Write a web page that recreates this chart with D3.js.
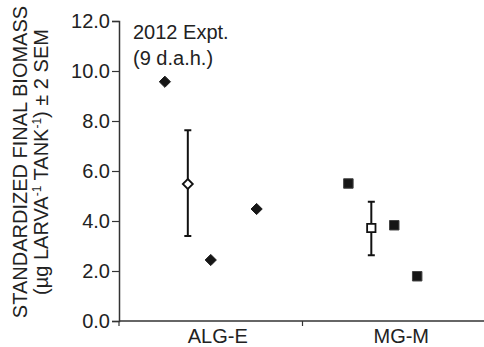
<!DOCTYPE html>
<html>
<head>
<meta charset="utf-8">
<script src="https://cdn.jsdelivr.net/npm/d3@7"></script>
<style>
  body { margin: 0; background: #fff; }
  text { font-family: "Liberation Sans", Arial, sans-serif; fill: #222; }
</style>
</head>
<body>
<div id="chart-area"></div>
<script>
// data
const groups = ['ALG-E', 'MG-M']
const yTicks = [0, 2, 4, 6, 8, 10, 12]

// replicate tanks (slot = order along the group)
const algReps = [9.57, 2.44, 4.48]
const algSlots = [0, 2, 4]
const mgReps = [5.5, 3.83, 1.79]
const mgSlots = [0, 2, 3]

// group means +/- 2 SEM
const means = [5.48, 3.72]
const errLow = [3.4, 2.63]
const errHigh = [7.63, 4.77]
const meanSlot = 1

const margin = {top: 21, right: -2, bottom: 26, left: 119},
      width = 484 - margin.left - margin.right,
      height = 347 - margin.top - margin.bottom;

const svg = d3.select('#chart-area').append('svg')
  .attr('width', 484)
  .attr('height', 347)

const g = svg.append('g')
  .attr('transform', `translate(${margin.left}, ${margin.top})`)

const x = d3.scaleBand().domain(groups).range([0, width])
const slot = d3.scaleLinear().domain([-2, 6]).range([0, x.bandwidth()])
const y = d3.scaleLinear().domain([0, 12]).range([height, 0])

const axisColor = '#333'
const fs = '20px'

// y axis
const yAxis = g.append('g')
  .call(d3.axisLeft(y).tickValues(yTicks).tickFormat(d3.format('.1f')).tickSizeOuter(0).tickSize(7))
yAxis.select('.domain').attr('stroke', axisColor).attr('stroke-width', 1.5)
yAxis.selectAll('.tick line').attr('stroke', axisColor).attr('stroke-width', 1.2)
yAxis.selectAll('.tick text')
  .attr('x', -9)
  .style('font-size', fs)
  .style('font-family', '"Liberation Sans", Arial, sans-serif')
  .attr('fill', '#222')

// x axis, ticks on the group boundaries
const xAxis = g.append('g').attr('transform', `translate(0, ${height})`)
xAxis.append('line')
  .attr('x1', 0).attr('x2', width)
  .attr('stroke', axisColor).attr('stroke-width', 1.5)
xAxis.selectAll('.bound').data(groups)
  .enter().append('line')
  .attr('x1', d => x(d)).attr('x2', d => x(d))
  .attr('y1', 0).attr('y2', 5)
  .attr('stroke', axisColor).attr('stroke-width', 1.2)
xAxis.selectAll('.lab').data(groups)
  .enter().append('text')
  .attr('x', d => x(d) + x.bandwidth() / 2 + 7)
  .attr('y', 22)
  .attr('text-anchor', 'middle')
  .style('font-size', fs)
  .text(d => d)

// y label
const yl = svg.append('text')
  .attr('transform', 'translate(27, 162) rotate(-90)')
  .attr('text-anchor', 'middle')
  .style('font-size', fs)
yl.append('tspan').attr('x', 0).attr('y', 0).text('STANDARDIZED FINAL BIOMASS')
const yl2 = yl.append('tspan').attr('x', 0).attr('y', 21)
yl2.text('(µg LARVA')
yl.append('tspan').attr('dy', -7).style('font-size', '12px').text('-1')
yl.append('tspan').attr('dy', 7).text(' TANK')
yl.append('tspan').attr('dy', -7).style('font-size', '12px').text('-1')
yl.append('tspan').attr('dy', 7).text(') ± 2 SEM')

// annotation
const note = g.append('text').style('font-size', fs)
note.append('tspan').attr('x', 14).attr('y', 18).text('2012 Expt.')
note.append('tspan').attr('x', 14).attr('y', 44).text('(9 d.a.h.)')

const diamond = d3.symbol().type(d3.symbolDiamond2).size(80)
const square = d3.symbol().type(d3.symbolSquare).size(90)

const reps = [
  {group: 'ALG-E', vals: algReps, slots: algSlots, sym: diamond, stroke: '#1a1a1a'},
  {group: 'MG-M', vals: mgReps, slots: mgSlots, sym: square, stroke: '#444'}
]

reps.forEach(r => {
  g.selectAll(null).data(r.vals.map((v, i) => ({v, s: r.slots[i]})))
    .enter().append('path')
    .attr('d', r.sym)
    .attr('transform', d => `translate(${x(r.group) + slot(d.s)}, ${y(d.v)})`)
    .attr('fill', '#161616')
    .attr('stroke', r.stroke)
    .attr('stroke-width', 1)
})

// means with error bars
groups.forEach((grp, i) => {
  const cx = x(grp) + slot(meanSlot)
  const eb = g.append('g')
  eb.append('line')
    .attr('x1', cx).attr('x2', cx)
    .attr('y1', y(errHigh[i])).attr('y2', y(errLow[i]))
    .attr('stroke', '#111').attr('stroke-width', 2)
  ;[errHigh[i], errLow[i]].forEach(v => {
    eb.append('line')
      .attr('x1', cx - 3.5).attr('x2', cx + 3.5)
      .attr('y1', y(v)).attr('y2', y(v))
      .attr('stroke', '#111').attr('stroke-width', 2)
  })
  eb.append('path')
    .attr('d', i === 0 ? d3.symbol().type(d3.symbolDiamond2).size(64)() : d3.symbol().type(d3.symbolSquare).size(70)())
    .attr('transform', `translate(${cx}, ${y(means[i])})`)
    .attr('fill', '#fff')
    .attr('stroke', '#111')
    .attr('stroke-width', 1.8)
})
</script>
</body>
</html>
